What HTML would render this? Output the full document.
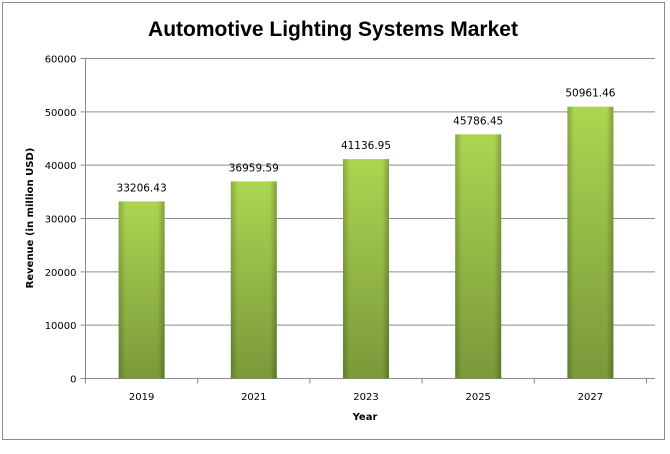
<!DOCTYPE html>
<html><head><meta charset="utf-8"><style>
body{margin:0;background:#fff;}
svg text{font-family:"DejaVu Sans","Liberation Sans",sans-serif;}
</style></head><body>
<svg id="chart" width="670" height="449" viewBox="0 0 670 449" xmlns="http://www.w3.org/2000/svg">
<defs>
<linearGradient id="gv" x1="0" y1="0" x2="0" y2="1">
<stop offset="0" stop-color="#acd550"/><stop offset="1" stop-color="#7a993a"/>
</linearGradient>
<linearGradient id="gh" x1="0" y1="0" x2="1" y2="0">
<stop offset="0" stop-color="#000" stop-opacity="0.2"/>
<stop offset="0.15" stop-color="#000" stop-opacity="0"/>
<stop offset="0.85" stop-color="#000" stop-opacity="0"/>
<stop offset="1" stop-color="#000" stop-opacity="0.25"/>
</linearGradient>
</defs>
<rect x="2.5" y="2.5" width="662" height="437" fill="#fff" stroke="#8c8c8c"/>
<text x="333" y="36" text-anchor="middle" font-size="21" font-weight="bold" fill="#000" style="font-family:'Liberation Sans',sans-serif">Automotive Lighting Systems Market</text>
<g id="grid"></g><g id="bars"></g><g id="axes"></g>
<text transform="translate(33,218) rotate(-90)" text-anchor="middle" font-size="10" font-weight="bold">Revenue (in million USD)</text>
<text x="365" y="420" text-anchor="middle" font-size="10" font-weight="bold">Year</text>
</svg>
<script>
const categories=["2019","2021","2023","2025","2027"];
const values=[33206.43,36959.59,41136.95,45786.45,50961.46];
const valueLabels=["33206.43","36959.59","41136.95","45786.45","50961.46"];
const yTicks=[0,10000,20000,30000,40000,50000,60000];
const NS="http://www.w3.org/2000/svg";
const x0=85.5,xGridEnd=655,yTop=58.5,yBot=378.5,yMax=60000;
const y=v=>yBot-(v/yMax)*(yBot-yTop);
const bw=112.2;
const xc=i=>x0+bw*(i+0.5);
function mk(t,a,p){const e=document.createElementNS(NS,t);for(const k in a)e.setAttribute(k,a[k]);p.appendChild(e);return e;}
const g=document.getElementById('grid'),b=document.getElementById('bars'),ax=document.getElementById('axes');
yTicks.forEach(v=>{
  const l=mk('line',{x1:x0-5,x2:xGridEnd,y1:y(v),y2:y(v),stroke:'#8c8c8c','stroke-width':1},g);
  
  
  const t=mk('text',{x:x0-9,y:y(v)+4,'text-anchor':'end','font-size':10},ax);
  t.textContent=v;
  
  
});
mk('line',{x1:x0,x2:x0,y1:yTop,y2:yBot+5,stroke:'#888'},ax);
for(let i=1;i<=categories.length;i++){mk('line',{x1:x0+bw*i,x2:x0+bw*i,y1:yBot,y2:yBot+5,stroke:'#888'},ax);}
categories.forEach((c,i)=>{
  const w=46,xx=xc(i)-w/2,top=y(values[i]);
  const r=mk('rect',{x:xx,y:top,width:w,height:yBot-top,fill:'url(#gv)'},b);
  
  
  mk('rect',{x:xx,y:top,width:w,height:yBot-top,fill:'url(#gh)'},b);
  const lt=mk('text',{x:xc(i),y:top-10,'text-anchor':'middle','font-size':10.5},b);
  lt.textContent=valueLabels[i];
  
  
  const xt=mk('text',{x:xc(i),y:400,'text-anchor':'middle','font-size':10},ax);
  xt.textContent=c;
  
  
});
</script>
</body></html>
